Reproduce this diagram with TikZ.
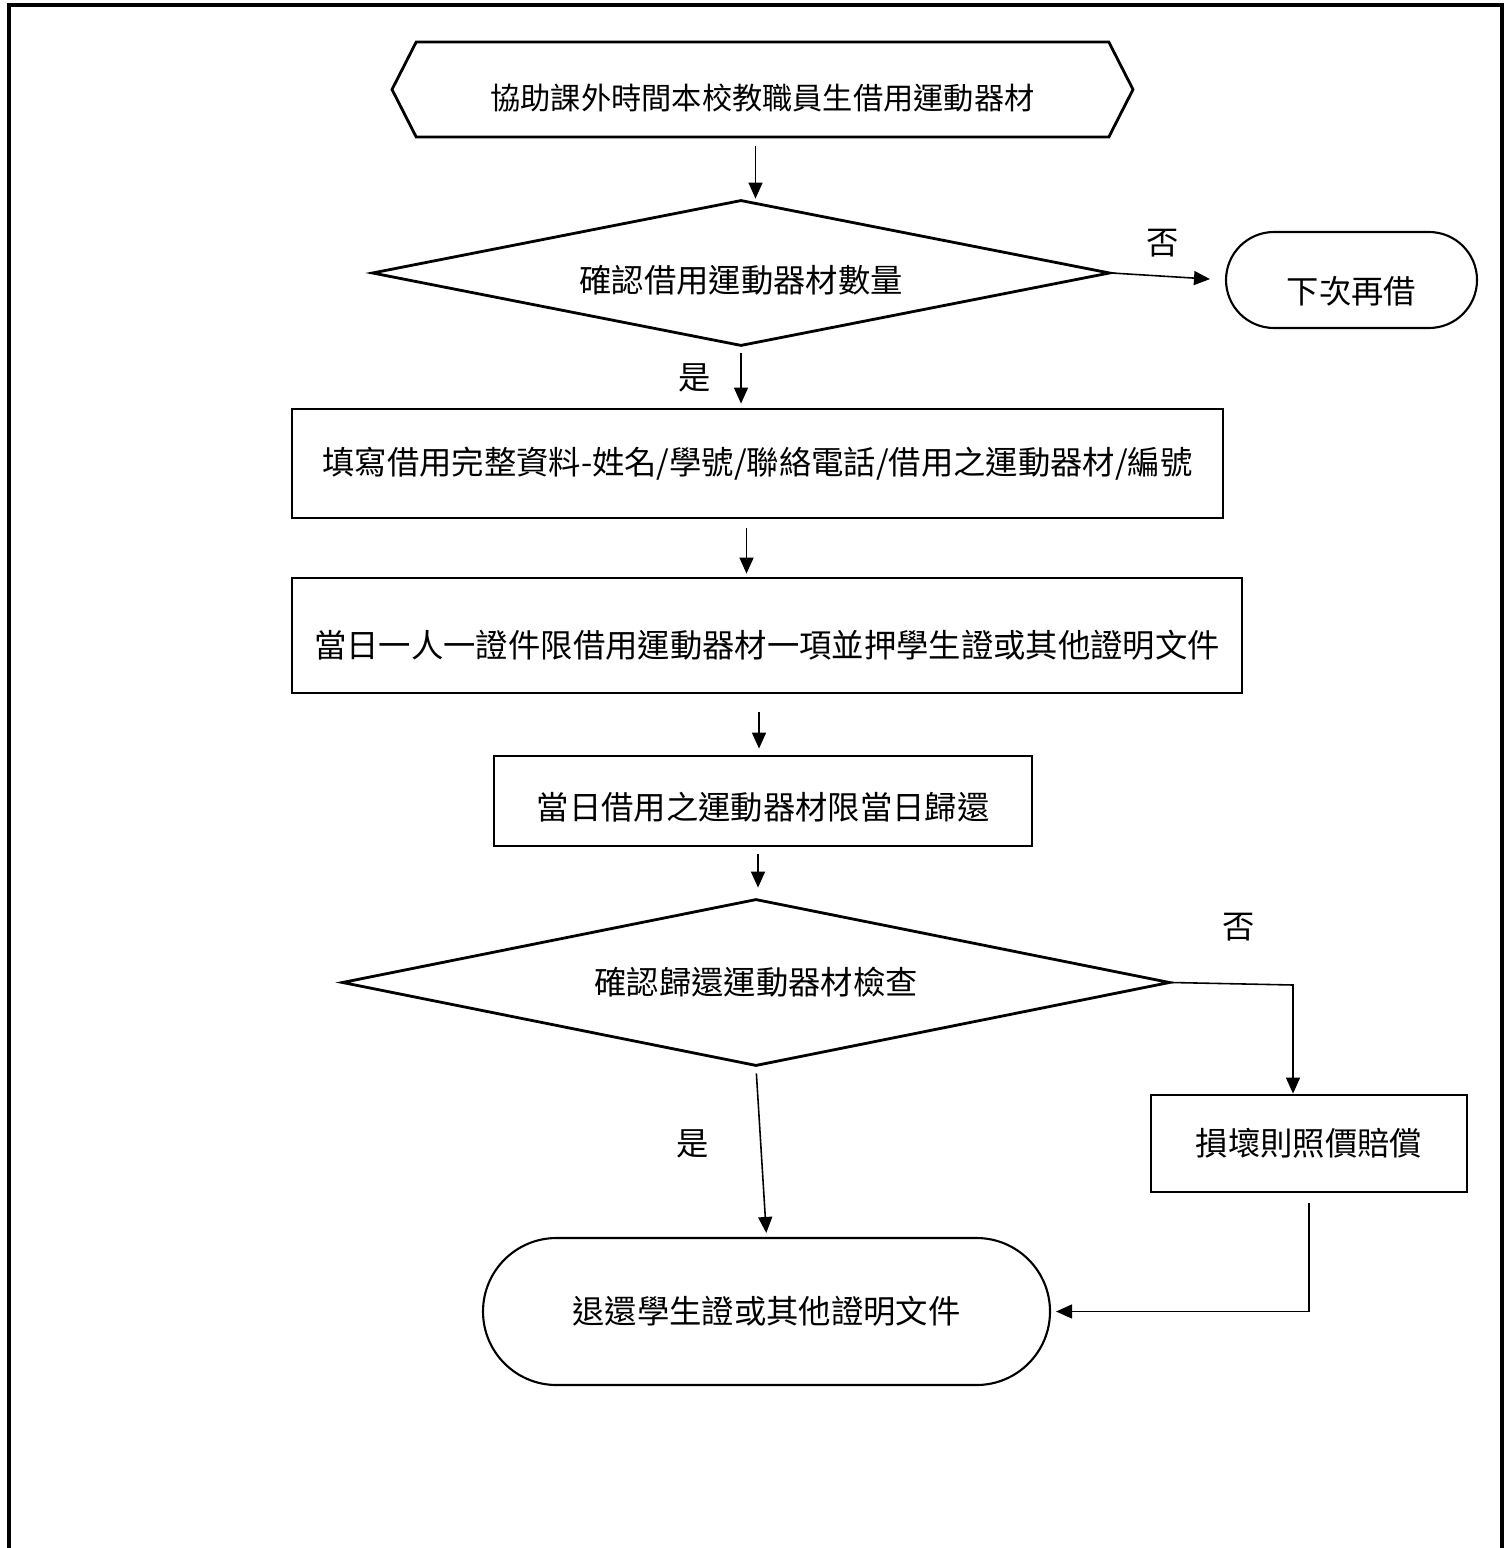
\documentclass[tikz,border=0pt]{standalone}
\usepackage{fontspec}
\setmainfont{Noto Sans CJK TC}
\usepackage{tikz}
\usetikzlibrary{arrows.meta}
\usetikzlibrary{shapes.geometric}
\usetikzlibrary{shapes.symbols}
\usetikzlibrary{shapes.misc}
\usetikzlibrary{positioning}
\tikzset{prep/.style={signal,signal to=west and east,signal pointer angle=126,draw=black,line width=0.8pt,inner sep=0pt}}
\tikzset{proc/.style={rectangle,draw=black,line width=0.8pt,inner sep=0pt}}
\tikzset{cond/.style={diamond,aspect=5,draw=black,line width=0.8pt,inner sep=0pt}}
\tikzset{term/.style={rounded rectangle,draw=black,line width=0.6pt,inner sep=0pt}}
\tikzset{lowtext/.style={text height=#1,text depth=0.06cm}}
\tikzset{flow/.style={->,>={Triangle[length=0.16cm,width=0.14cm]},line width=0.45pt}}

\begin{document}
\begin{tikzpicture}[font=\fontsize{9.2pt}{11pt}\selectfont]
    \useasboundingbox (0,0) rectangle (15.11,-15.48);
    \draw[line width=0.9pt] (0.09,-15.48) -- (0.09,-0.05) -- (15.02,-0.05) -- (15.02,-15.48);
    \node[prep, lowtext=0.46cm, font=\fontsize{8.6pt}{10pt}\selectfont, minimum width=7.41cm, minimum height=0.95cm] (start) at (7.625,-0.895) {協助課外時間本校教職員生借用運動器材};
    \node[cond, lowtext=0.46cm, minimum width=7.38cm, minimum height=1.46cm] (chk1) at (7.41,-2.73) {確認借用運動器材數量};
    \node[term, lowtext=0.54cm, minimum width=2.51cm, minimum height=0.96cm] (later) at (13.515,-2.80) {下次再借};
    \node[proc, minimum width=9.31cm, minimum height=1.09cm] (fill) at (7.575,-4.635) {填寫借用完整資料-姓名/學號/聯絡電話/借用之運動器材/編號};
    \node[proc, lowtext=0.5cm, minimum width=9.50cm, minimum height=1.15cm] (card) at (7.67,-6.355) {當日一人一證件限借用運動器材一項並押學生證或其他證明文件};
    \node[proc, lowtext=0.42cm, minimum width=5.38cm, minimum height=0.90cm] (due) at (7.63,-8.01) {當日借用之運動器材限當日歸還};
    \node[cond, minimum width=8.28cm, minimum height=1.67cm] (chk2) at (7.56,-9.825) {確認歸還運動器材檢查};
    \node[proc, minimum width=3.16cm, minimum height=0.97cm] (pay) at (13.09,-11.435) {損壞則照價賠償};
    \node[term, minimum width=5.67cm, minimum height=1.47cm] (back) at (7.665,-13.115) {退還學生證或其他證明文件};
    \coordinate (turn) at (12.93,-9.85);

    \draw[flow, shorten <=0.08cm] ([xshift=-0.07cm]start.south) -- ([xshift=-0.07cm]start.south |- chk1.north);
    \draw[flow, shorten >=0.15cm] (chk1.east) -- node[above=0.07cm, pos=0.45] {否} (later.west);
    \draw[flow, shorten <=0.06cm, shorten >=0.04cm] (chk1.south) -- node[left=0.18cm] {是} (chk1.south |- fill.north);
    \draw[flow, shorten <=0.09cm, shorten >=0.03cm] ([xshift=-0.11cm]fill.south) -- ([xshift=-0.11cm]fill.south |- card.north);
    \draw[flow, shorten <=0.18cm, shorten >=0.06cm] ([xshift=-0.08cm]card.south) -- ([xshift=-0.08cm]card.south |- due.north);
    \draw[flow, shorten <=0.07cm, shorten >=0.1cm] ([xshift=-0.05cm]due.south) -- ([xshift=-0.05cm]due.south |- chk2.north);
    \draw[flow] (chk2.east) -- node[above=0.3cm, pos=0.55] {否} (turn) -- (turn |- pay.north);
    \draw[flow, shorten <=0.06cm, shorten >=0.04cm] (chk2.south) -- node[left=0.39cm, pos=0.45] {是} (back.north);
    \draw[flow, shorten <=0.1cm, shorten >=0.05cm] (pay.south) -- (pay.south |- back.east) -- (back.east);
\end{tikzpicture}
\end{document}
